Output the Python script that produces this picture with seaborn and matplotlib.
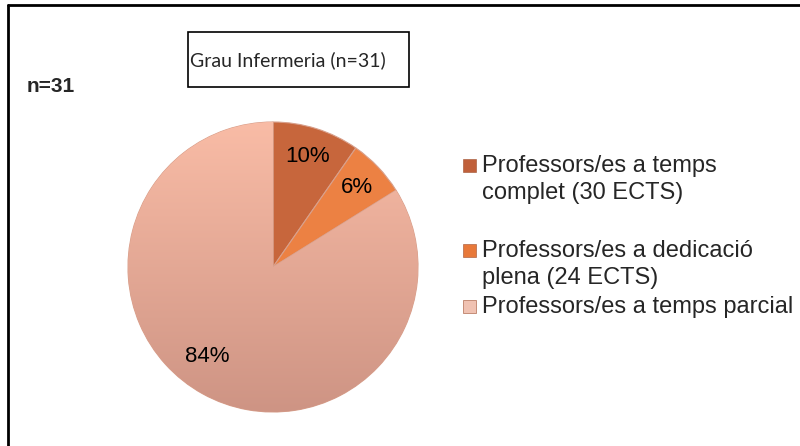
import matplotlib
matplotlib.use("Agg")
import matplotlib.pyplot as plt
import seaborn as sns
import numpy as np
from matplotlib.lines import Line2D
from matplotlib.patches import Rectangle
from matplotlib.colors import LinearSegmentedColormap

# data (n=31 teachers)
categories = ["Professors/es a temps\ncomplet (30 ECTS)",
              "Professors/es a dedicació\nplena (24 ECTS)",
              "Professors/es a temps parcial"]
counts = [3, 2, 26]
colors = ["#C7663C", "#EC8143", "#E9AC95"]
legend_colors = ["#C0603A", "#E8793A", "#F0C2B2"]
title = "Grau Infermeria (n=31)"
n_label = "n=31"

sns.set_style("white")
plt.rcParams['font.family'] = ['Liberation Sans', 'DejaVu Sans']

W, H = 800, 446
fig = plt.figure(figsize=(8, 4.46), dpi=100)

def fx(px):
    return px / W

def fy(py):
    return 1 - py / H

# pie axes: centre (273, 267), radius 145 px
cx, cy, r = 273, 267, 145
ax = fig.add_axes([fx(cx - r), fy(cy + r), 2 * r / W, 2 * r / H])
wedges, texts, autotexts = ax.pie(
    counts, colors=colors, startangle=90, counterclock=False,
    autopct='%.0f%%', pctdistance=0.8,
    wedgeprops=dict(edgecolor="#d8a08c", linewidth=0.8),
    textprops=dict(fontsize=16, color="black"))
ax.set_xlim(-1, 1)
ax.set_ylim(-1, 1)
ax.set_aspect('equal')
ax.axis('off')

# vertical shading on the large wedge, light at the top
shade = LinearSegmentedColormap.from_list("shade", ["#CE9484", "#F9BCA6"])
grad = np.linspace(0, 1, 256).reshape(-1, 1)
im = ax.imshow(grad, extent=(-1, 1, -1, 1), origin='lower', cmap=shade,
               aspect='auto', zorder=wedges[2].get_zorder() + 0.1)
im.set_clip_path(wedges[2])
for t in autotexts:
    t.set_zorder(5)
autotexts[2].set_position((-0.45, -0.62))

# legend drawn by hand: square marker aligned with first line
legend_y = [165, 250, 306]
for lab, col, y in zip(categories, legend_colors, legend_y):
    fig.add_artist(Rectangle((fx(463), fy(y + 6.5)), 13 / W, 13 / H,
                             transform=fig.transFigure, facecolor=col,
                             edgecolor="#a05030", linewidth=0.4))
    fig.text(fx(482), fy(y - 10), lab, fontsize=17, va='top', ha='left',
             linespacing=1.3)

# title box
fig.add_artist(Rectangle((fx(188), fy(87)), (409 - 188) / W, (87 - 32) / H,
                         transform=fig.transFigure, facecolor="white",
                         edgecolor="black", linewidth=1.2))
fig.text(fx(288), fy(60), title, fontsize=14, ha='center', va='center',
         family=['Lato', 'DejaVu Sans'])

fig.text(fx(27), fy(86), n_label, fontsize=15, fontweight='bold',
         ha='left', va='center')

# outer frame (top and left edges)
fig.add_artist(Line2D([fx(8), 1], [fy(5), fy(5)], color="black", linewidth=2,
                      transform=fig.transFigure))
fig.add_artist(Line2D([fx(8), fx(8)], [fy(5), 0], color="black", linewidth=2,
                      transform=fig.transFigure))

fig.savefig("out.png", dpi=100)
